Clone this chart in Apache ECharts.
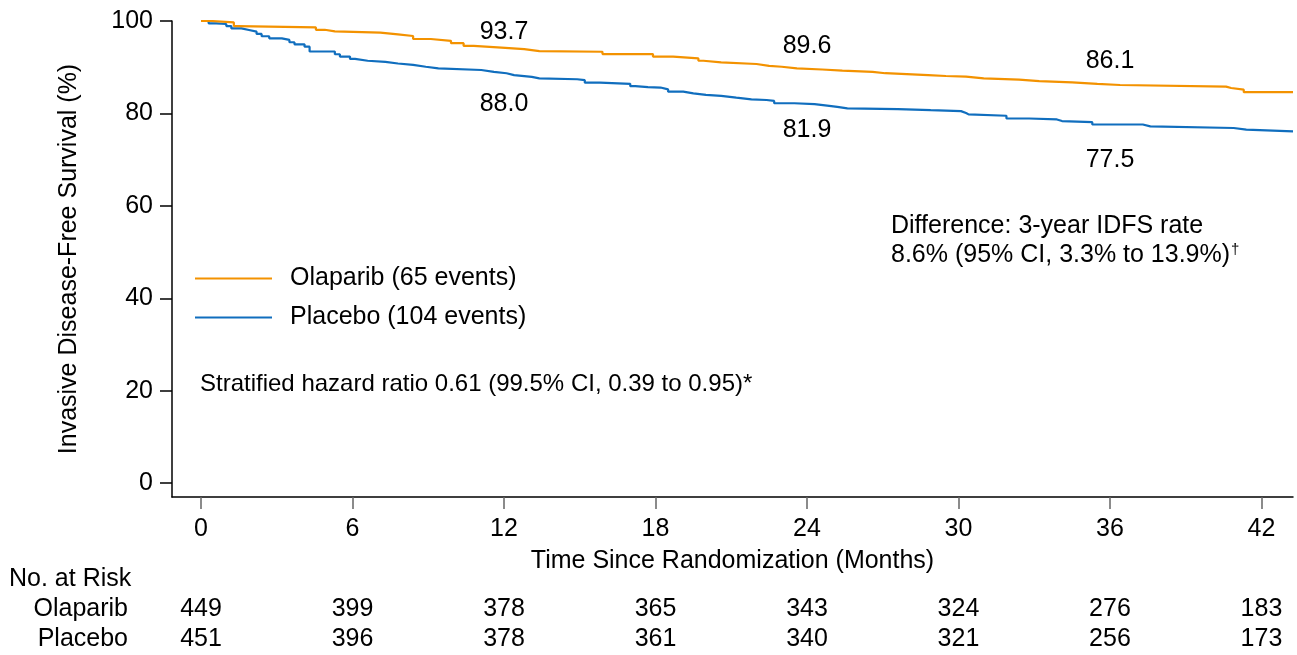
<!DOCTYPE html>
<html><head><meta charset="utf-8">
<script src="https://cdn.jsdelivr.net/npm/echarts@6/dist/echarts.min.js"></script>
<style>html,body{margin:0;padding:0;background:#fff}#c{width:1297px;height:655px}</style>
</head><body><div id="c"></div>
<script>
const FONT = '"Liberation Sans", Arial, Helvetica, sans-serif';
const xTicks = [0, 6, 12, 18, 24, 30, 36, 42];
const yTicks = [0, 20, 40, 60, 80, 100];

const olaparibTime = [0, 0.4, 1.3, 1.45, 4.55, 4.9, 5.3, 7.1, 7.8, 8.4, 9.1, 9.9, 10.4, 10.8, 11.9, 12.8, 13.4, 15.9, 17.9, 18.7, 19.7, 19.9, 20.6, 22.0, 22.5, 23.0, 23.6, 24.6, 25.4, 26.6, 27.1, 28.8, 29.5, 30.3, 31.0, 32.4, 33.2, 34.5, 35.5, 36.4, 40.6, 40.8, 41.3, 43.25];
const olaparibSurv = [100, 99.7, 98.9, 98.6, 98.1, 97.75, 97.5, 97.1, 96.75, 96.1, 95.7, 95.2, 94.6, 94.25, 93.9, 93.5, 93.35, 92.85, 92.3, 91.9, 91.4, 91.05, 90.7, 90.3, 90.1, 89.75, 89.5, 89.25, 89.0, 88.7, 88.3, 88.1, 87.95, 87.6, 87.3, 87.0, 86.7, 86.4, 86.15, 85.8, 85.5, 85.15, 84.6, 84.6];

const placeboTime = [0, 0.3, 0.6, 1.0, 1.2, 1.6, 1.9, 2.2, 2.4, 2.7, 3.2, 3.5, 3.7, 4.1, 4.3, 5.3, 5.5, 5.9, 6.1, 6.6, 7.3, 7.8, 8.4, 8.9, 9.4, 11.1, 11.6, 12.1, 12.4, 13.1, 13.4, 14.9, 15.2, 15.8, 17.0, 17.2, 17.7, 18.2, 18.5, 19.1, 19.5, 20.0, 20.6, 21.2, 21.8, 22.4, 22.7, 23.5, 24.3, 24.8, 25.2, 25.6, 27.6, 28.9, 30.1, 30.3, 30.4, 31.9, 32.8, 33.9, 34.1, 35.3, 37.3, 37.6, 40.9, 41.4, 43.25];
const placeboSurv = [100, 99.5, 99.35, 98.9, 98.4, 98.05, 97.7, 97.2, 96.7, 96.25, 95.9, 95.4, 94.95, 94.45, 93.4, 92.8, 92.3, 91.8, 91.4, 91.15, 90.8, 90.5, 90.1, 89.75, 89.4, 89.0, 88.7, 88.3, 87.9, 87.6, 87.4, 87.2, 86.65, 86.4, 85.9, 85.7, 85.6, 85.2, 84.7, 84.35, 84.0, 83.8, 83.4, 83.05, 82.9, 82.7, 82.2, 82.0, 81.7, 81.4, 81.1, 80.95, 80.7, 80.5, 80.1, 79.8, 79.5, 78.9, 78.7, 78.35, 78.1, 77.6, 77.2, 76.85, 76.5, 76.1, 76.1];

const milestoneTimes = [12, 24, 36];
const olaparibMilestones = [93.7, 89.6, 86.1];
const placeboMilestones = [88.0, 81.9, 77.5];

const riskTimes = [0, 6, 12, 18, 24, 30, 36, 42];
const riskOlaparib = [449, 399, 378, 365, 343, 324, 276, 183];
const riskPlacebo = [451, 396, 378, 361, 340, 321, 256, 173];

const seriesNames = ['Olaparib (65 events)', 'Placebo (104 events)'];
const ORANGE = '#F39200';
const BLUE = '#106EBE';
const FS = 25;

const zip = (a, b) => a.map((t, i) => [t, b[i]]);
const olapOffsets = [-18, -23, -24];
const placOffsets = [28, 25, 35];

const chart = echarts.init(document.getElementById('c'), null, {renderer: 'canvas'});
const milestoneLabel = {show: true, position: 'inside', fontSize: FS, color: '#000', fontFamily: FONT,
  textBorderWidth: 0, textShadowBlur: 0, opacity: 1, formatter: p => p.value[1].toFixed(1)};
const option = {
  animation: false,
  backgroundColor: '#fff',
  textStyle: {fontFamily: FONT},
  grid: {left: 172, right: 4, top: 21, bottom: 158, containLabel: false},
  xAxis: {
    type: 'value', min: -1.15, max: 43.25,
    name: 'Time Since Randomization (Months)', nameLocation: 'middle', nameGap: 52,
    nameTextStyle: {fontSize: FS, color: '#000', fontFamily: FONT},
    axisLine: {show: true, onZero: false, lineStyle: {color: '#000', width: 1.5}},
    axisTick: {show: true, length: 12, customValues: xTicks, lineStyle: {color: '#666', width: 1.5}},
    axisLabel: {customValues: xTicks, fontSize: FS, color: '#000', margin: 20, fontFamily: FONT},
    splitLine: {show: false}
  },
  yAxis: {
    type: 'value', min: -3, max: 100,
    name: 'Invasive Disease-Free Survival (%)', nameLocation: 'middle', nameGap: 90, nameRotate: 90,
    nameTextStyle: {fontSize: FS, color: '#000', fontFamily: FONT},
    axisLine: {show: true, onZero: false, lineStyle: {color: '#000', width: 1.5}},
    axisTick: {show: true, length: 12, customValues: yTicks, lineStyle: {color: '#000', width: 1.5}},
    axisLabel: {customValues: yTicks, fontSize: FS, color: '#000', margin: 19, fontFamily: FONT},
    splitLine: {show: false}
  },
  legend: {
    orient: 'vertical', left: 195, top: 266, padding: 0, itemWidth: 77, itemHeight: 2, itemGap: 14, icon: 'rect',
    data: seriesNames,
    textStyle: {fontSize: FS, color: '#000', fontFamily: FONT, padding: [0, 0, 0, 13]}
  },
  series: [
    {name: seriesNames[0], type: 'line', step: 'end', showSymbol: false, data: zip(olaparibTime, olaparibSurv),
      lineStyle: {color: ORANGE, width: 2.2}, itemStyle: {color: ORANGE}, z: 3},
    {name: seriesNames[1], type: 'line', step: 'end', showSymbol: false, data: zip(placeboTime, placeboSurv),
      lineStyle: {color: BLUE, width: 2.2}, itemStyle: {color: BLUE}, z: 2},
    {name: 'olapLabels', type: 'scatter', symbolSize: 0, silent: true, itemStyle: {opacity: 1, color: 'transparent'},
      data: milestoneTimes.map((t, i) => ({value: [t, olaparibMilestones[i]], label: {offset: [0, olapOffsets[i]]}})),
      label: milestoneLabel},
    {name: 'placLabels', type: 'scatter', symbolSize: 0, silent: true, itemStyle: {opacity: 1, color: 'transparent'},
      data: milestoneTimes.map((t, i) => ({value: [t, placeboMilestones[i]], label: {offset: [0, placOffsets[i]]}})),
      label: milestoneLabel}
  ]
};
chart.setOption(option);

const txt = (x, y, text, align, extra) => ({type: 'text', silent: true, style: Object.assign({
  x: x, y: y, text: text, align: align || 'left', verticalAlign: 'middle',
  fontSize: FS, fontFamily: FONT, fill: '#000'}, extra || {})});

const graphics = [
  txt(200, 384, 'Stratified hazard ratio 0.61 (99.5% CI, 0.39 to 0.95)*', 'left', {fontSize: 24}),
  txt(891, 226, 'Difference: 3-year IDFS rate'),
  txt(891, 255, '{a|8.6% (95% CI, 3.3% to 13.9%)}{s|†}', 'left', {rich: {
    a: {fontSize: FS, fontFamily: FONT, fill: '#000'},
    s: {fontSize: 15, fontFamily: FONT, fill: '#000', verticalAlign: 'top', padding: [0, 0, 8, 1]}}}),
  txt(9, 579, 'No. at Risk'),
  txt(128, 609, 'Olaparib', 'right'),
  txt(128, 639, 'Placebo', 'right')
];
riskTimes.forEach((t, i) => {
  const x = chart.convertToPixel({xAxisIndex: 0}, t);
  graphics.push(txt(x, 609, String(riskOlaparib[i]), 'center'));
  graphics.push(txt(x, 639, String(riskPlacebo[i]), 'center'));
});
chart.setOption({graphic: graphics});
</script></body></html>
